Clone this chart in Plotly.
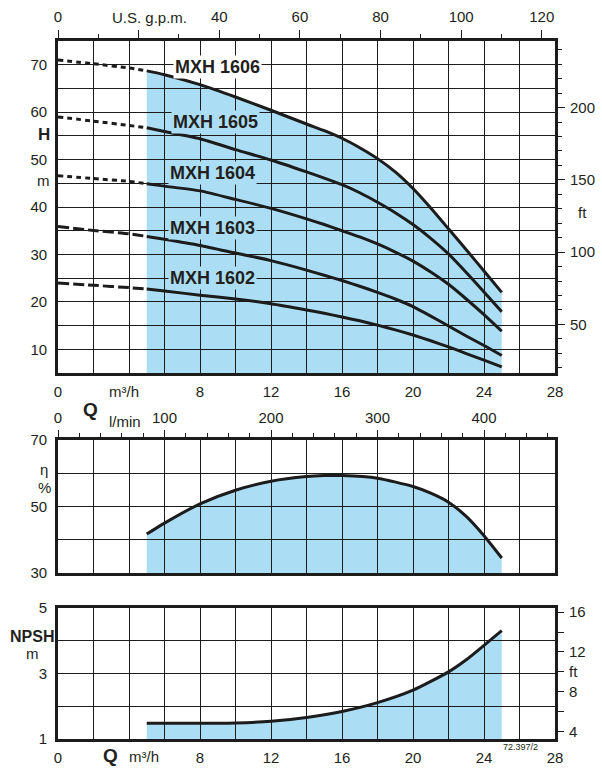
import plotly.graph_objects as go

# ---------------- data ----------------
# Head curves H [m] vs Q [m3/h]
Q_EXT = [0, 2, 4, 5]
H_EXT_1606 = [71.0, 70.2, 69.3, 68.7]
H_EXT_1605 = [59.0, 58.1, 57.2, 56.7]
H_EXT_1604 = [46.6, 46.0, 45.4, 44.9]
H_EXT_1603 = [35.9, 35.05, 34.35, 33.8]
H_EXT_1602 = [24.0, 23.5, 23.0, 22.7]

Q_H = [5, 6, 8, 10, 12, 14, 15, 16, 17, 18, 19, 20, 21, 22, 23, 24, 25]
H_1606 = [68.7, 67.9, 65.8, 63.2, 60.4, 57.5, 56.1, 54.5, 52.5, 50.2, 47.4, 43.9, 39.8, 35.4, 31.0, 26.5, 22.0]
H_1605 = [56.7, 55.9, 54.4, 52.1, 49.9, 47.4, 46.1, 44.7, 43.0, 41.0, 38.8, 36.3, 33.4, 30.1, 26.2, 22.1, 17.9]
H_1604 = [44.9, 44.4, 43.4, 41.6, 39.7, 37.5, 36.3, 35.0, 33.7, 32.2, 30.5, 28.6, 26.3, 23.7, 20.6, 17.3, 13.8]
H_1603 = [33.8, 33.2, 31.9, 30.3, 28.7, 26.7, 25.6, 24.5, 23.3, 22.0, 20.6, 19.0, 17.0, 14.9, 12.8, 10.8, 8.7]
H_1602 = [22.7, 22.3, 21.4, 20.6, 19.6, 18.3, 17.6, 16.8, 16.0, 15.1, 14.1, 13.0, 11.8, 10.5, 9.1, 7.7, 6.3]

MODELS = ["MXH 1606", "MXH 1605", "MXH 1604", "MXH 1603", "MXH 1602"]

# Efficiency
Q_EFF = [5, 6, 8, 10, 12, 14, 15, 16, 18, 20, 21, 22, 23, 24, 25]
ETA = [41.7, 45.0, 50.8, 54.9, 57.6, 59.0, 59.3, 59.3, 58.5, 56.0, 54.0, 51.3, 47.0, 41.2, 34.5]

# NPSH
Q_NPSH = [5, 8, 10, 12, 14, 16, 18, 20, 22, 23, 24, 25]
NPSH_M = [1.48, 1.48, 1.49, 1.54, 1.66, 1.84, 2.11, 2.49, 3.05, 3.42, 3.86, 4.31]

# Tick labels
Q_TICKS = [0, 4, 8, 12, 16, 20, 24, 28]
Q_TICKTEXT = ["0", "", "8", "12", "16", "20", "24", "28"]
GPM_TICKS = [0, 20, 40, 60, 80, 100, 120]
GPM_TICKTEXT = ["0", "", "40", "60", "80", "100", "120"]
LMIN_TICKS = [0, 100, 200, 300, 400]
H_TICKS = [10, 20, 30, 40, 50, 60, 70]
FT_TICKS = [50, 100, 150, 200]
ETA_TICKS = [30, 50, 70]
NPSH_TICKS = [1, 3, 5]
NPSH_FT_TICKS = [4, 6, 8, 10, 12, 14, 16]
NPSH_FT_TEXT = ["4", "", "8", "ft", "12", "", "16"]

# ---------------- style ----------------
W, H = 602, 770
ML, MR, MT, MB = 58, 47, 41, 31
PW, PH = W - ML - MR, H - MT - MB
FILL = "rgb(171,222,245)"
LINE = "#1c1c1c"
TXT = "#231f20"
FONT = "Liberation Sans, Arial, sans-serif"
GPM_PER_M3H = 4.402868
LMIN_PER_M3H = 1000 / 60
M_PER_FT = 0.3048


def py(px):
    return (H - MB - px) / PH


def pxx(px):
    return (px - ML) / PW


fig = go.Figure()


def add_curve(xs, ys, xa, ya, dash="solid"):
    fig.add_trace(go.Scatter(x=xs, y=ys, xaxis=xa, yaxis=ya, mode="lines",
                             line=dict(color=LINE, width=3, dash=dash, shape="spline", smoothing=0.6),
                             hoverinfo="skip", showlegend=False))


def add_axis_holder(xa, ya):
    # empty trace so that the secondary (unit) axes are drawn
    fig.add_trace(go.Scatter(x=[], y=[], xaxis=xa, yaxis=ya, mode="markers",
                             hoverinfo="skip", showlegend=False))


def area_path(xs, ys, base):
    parts = [f"M {xs[0]},{base}"]
    for x, y in zip(xs, ys):
        parts.append(f"L {x},{y}")
    parts.append(f"L {xs[-1]},{base} Z")
    return " ".join(parts)


# fills (shapes below the grid so the grid shows through)
shapes = [
    dict(type="path", path=area_path(Q_H, H_1606, 5), xref="x", yref="y",
         fillcolor=FILL, line=dict(width=0), layer="below"),
    dict(type="path", path=area_path(Q_EFF, ETA, 30), xref="x3", yref="y3",
         fillcolor=FILL, line=dict(width=0), layer="below"),
    dict(type="path", path=area_path(Q_NPSH, NPSH_M, 1), xref="x5", yref="y5",
         fillcolor=FILL, line=dict(width=0), layer="below"),
]

ext = [H_EXT_1606, H_EXT_1605, H_EXT_1604, H_EXT_1603, H_EXT_1602]
main = [H_1606, H_1605, H_1604, H_1603, H_1602]
dashes = ["5px,4px", "5px,4px", "5px,4px", "11px,4px", "11px,4px"]
for e, m, d in zip(ext, main, dashes):
    add_curve(Q_EXT, e, "x", "y", d)
    add_curve(Q_H, m, "x", "y")

add_curve(Q_EFF, ETA, "x3", "y3")
add_curve(Q_NPSH, NPSH_M, "x5", "y5")

add_axis_holder("x2", "y")
add_axis_holder("x", "y2")
add_axis_holder("x4", "y3")
add_axis_holder("x5", "y6")

tickfont = dict(family=FONT, size=15, color=TXT)
grid = dict(showgrid=True, gridcolor=LINE, gridwidth=1.2)
frame = dict(showline=True, mirror=True, linecolor=LINE, linewidth=2.6, zeroline=False)
noauto = dict(automargin=False)

Y_TOP = [py(373), 1.0]
Y_MID = [py(573), py(440)]
Y_BOT = [0.0, py(608)]


def qaxis(anchor, show_labels=True):
    return dict(domain=[0, 1], anchor=anchor, range=[0, 28], tickmode="array",
                tickvals=Q_TICKS, ticktext=Q_TICKTEXT, ticks="",
                showticklabels=show_labels, tickfont=tickfont, ticklabelstandoff=3,
                minor=dict(dtick=2, tick0=0, showgrid=True, gridcolor=LINE, gridwidth=1.2),
                **grid, **frame, **noauto)


fig.update_layout(
    template="none",
    width=W, height=H,
    margin=dict(l=ML, r=MR, t=MT, b=MB, pad=0, autoexpand=False),
    plot_bgcolor="white", paper_bgcolor="white", showlegend=False,
    font=dict(family=FONT, size=15, color=TXT),
    # ---- top chart ----
    xaxis=qaxis("y"),
    xaxis2=dict(overlaying="x", anchor="y", side="top", range=[0, 28 * GPM_PER_M3H],
                tickmode="array", tickvals=GPM_TICKS, ticktext=GPM_TICKTEXT,
                ticks="outside", ticklen=10, tickwidth=1.3, tickcolor=LINE,
                minor=dict(dtick=10, tick0=0, ticks="outside", ticklen=6, tickwidth=1.3, tickcolor=LINE),
                tickfont=tickfont, ticklabelstandoff=2, showgrid=False, showline=False,
                zeroline=False, **noauto),
    yaxis=dict(domain=Y_TOP, anchor="x", range=[5, 75], tickmode="array", tickvals=H_TICKS,
               ticks="", tickfont=tickfont, ticklabelstandoff=5,
               minor=dict(dtick=5, tick0=0, showgrid=True, gridcolor=LINE, gridwidth=1.2),
               **grid, **frame, **noauto),
    yaxis2=dict(overlaying="y", anchor="x", side="right",
                range=[5 / M_PER_FT, 75 / M_PER_FT], tickmode="array", tickvals=FT_TICKS,
                ticks="outside", ticklen=9, tickwidth=1.3, tickcolor=LINE,
                minor=dict(dtick=10, tick0=0, ticks="outside", ticklen=6, tickwidth=1.3, tickcolor=LINE),
                tickfont=tickfont, ticklabelstandoff=2, showgrid=False, showline=False,
                zeroline=False, **noauto),
    # ---- middle chart ----
    xaxis3=qaxis("y3", show_labels=False),
    xaxis4=dict(overlaying="x3", anchor="y3", side="top", range=[0, 28 * LMIN_PER_M3H],
                tickmode="array", tickvals=LMIN_TICKS,
                ticks="outside", ticklen=9, tickwidth=1.3, tickcolor=LINE,
                minor=dict(dtick=20, tick0=0, ticks="outside", ticklen=6, tickwidth=1.3, tickcolor=LINE),
                tickfont=tickfont, ticklabelstandoff=1, showgrid=False, showline=False,
                zeroline=False, **noauto),
    yaxis3=dict(domain=Y_MID, anchor="x3", range=[30, 70], tickmode="array", tickvals=ETA_TICKS,
                ticks="", tickfont=tickfont, ticklabelstandoff=5,
                minor=dict(dtick=10, tick0=0, showgrid=True, gridcolor=LINE, gridwidth=1.2),
                **grid, **frame, **noauto),
    # ---- bottom chart ----
    xaxis5=qaxis("y5"),
    yaxis5=dict(domain=Y_BOT, anchor="x5", range=[1, 5], tickmode="array", tickvals=NPSH_TICKS,
                ticks="", tickfont=tickfont, ticklabelstandoff=5,
                minor=dict(dtick=1, tick0=0, showgrid=True, gridcolor=LINE, gridwidth=1.2),
                **grid, **frame, **noauto),
    yaxis6=dict(overlaying="y5", anchor="x5", side="right",
                range=[1 / M_PER_FT, 5 / M_PER_FT], tickmode="array",
                tickvals=NPSH_FT_TICKS, ticktext=NPSH_FT_TEXT,
                ticks="outside", ticklen=8, tickwidth=1.3, tickcolor=LINE,
                tickfont=tickfont, ticklabelstandoff=2, showgrid=False, showline=False,
                zeroline=False, **noauto),
    shapes=shapes,
)

ann = []


def label(text, xpx, ypx, size=15, **kw):
    ann.append(dict(text=text, x=pxx(xpx), y=py(ypx), xref="paper", yref="paper",
                    showarrow=False, xanchor="center", yanchor="middle",
                    font=dict(family=FONT, size=size, color=TXT), **kw))


label("U.S. g.p.m.", 149, 18)
label("<b>H</b>", 43.5, 135, size=17)
label("m", 43.5, 180)
label("ft", 582, 213)
label("m³/h", 124, 391)
label("<b>Q</b>", 90, 409, size=19)
label("l/min", 125, 421)
label("η", 44, 469)
label("%", 44, 487)
label("<b>NPSH</b>", 32, 636, size=16)
label("m", 32, 653)
label("<b>Q</b>", 110.6, 755, size=19)
label("m³/h", 144.4, 756)
label("72.397/2", 520.5, 747, size=9)

# model labels placed in data coordinates of the head chart
MODEL_POS_Q = [8.99, 8.9, 8.68, 8.68, 8.68]
MODEL_POS_H = [69.5, 57.85, 47.1, 35.6, 25.1]
MODEL_BG = ["white", FILL, FILL, FILL, FILL]
for name, qx, hy, bg in zip(MODELS, MODEL_POS_Q, MODEL_POS_H, MODEL_BG):
    ann.append(dict(text=f"<b>{name}</b>", x=qx, y=hy, xref="x", yref="y", showarrow=False,
                    xanchor="center", yanchor="middle", bgcolor=bg, borderpad=1,
                    font=dict(family=FONT, size=18, color=TXT)))

fig.update_layout(annotations=ann)
fig.write_html(
    "out.html",
    config={"displayModeBar": False},
    post_script="document.body.style.margin='0px';document.body.style.overflow='hidden';",
)
